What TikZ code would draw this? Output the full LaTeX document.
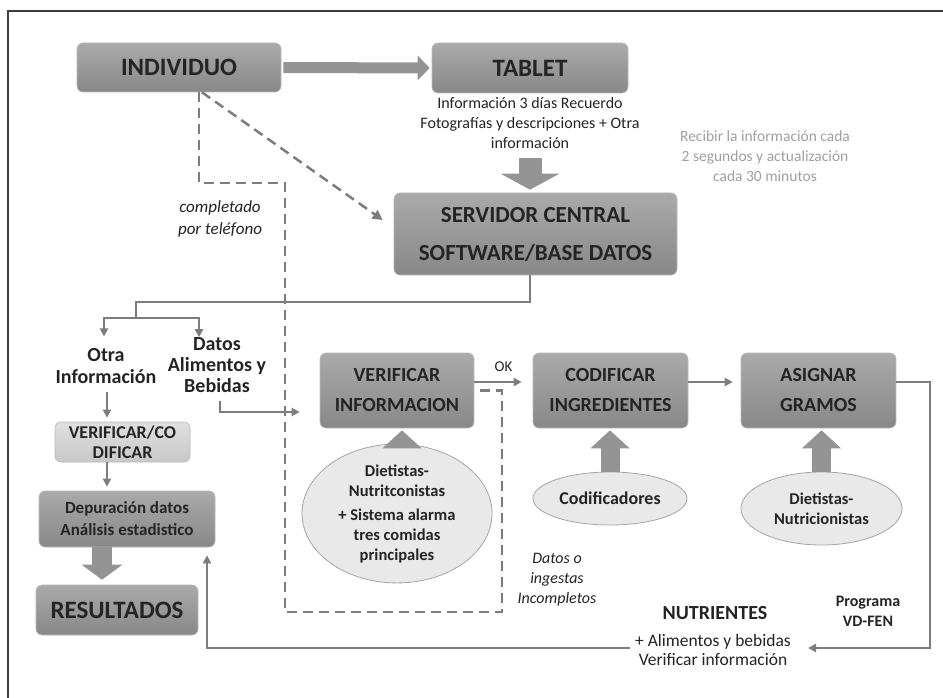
\documentclass[tikz,border=0pt]{standalone}
\usepackage{fontspec}
\setmainfont{Carlito}
\usetikzlibrary{arrows.meta,shapes.geometric}

\definecolor{ink}{RGB}{36,36,36}
\definecolor{boxtop}{RGB}{170,170,170}
\definecolor{boxbot}{RGB}{136,136,136}
\definecolor{boxedge}{RGB}{185,185,185}
\definecolor{lighttop}{RGB}{224,224,224}
\definecolor{lightbot}{RGB}{200,200,200}
\definecolor{ovalfill}{RGB}{233,233,233}
\definecolor{ovaledge}{RGB}{165,165,165}
\definecolor{flow}{RGB}{125,125,125}
\definecolor{bigflow}{RGB}{148,148,148}
\definecolor{note}{RGB}{160,160,160}
\definecolor{frameline}{RGB}{60,60,60}

\newcommand\fsz[2]{\fontsize{#1}{#2}\selectfont}

\tikzset{
  procbox/.style={rectangle, rounded corners=6pt, top color=boxtop, bottom color=boxbot,
    draw=boxedge, line width=0.6pt, text=ink, align=center, inner sep=0pt},
  lightbox/.style={procbox, top color=lighttop, bottom color=lightbot},
  oval/.style={ellipse, fill=ovalfill, draw=ovaledge, line width=0.8pt, text=ink,
    align=center, inner sep=0pt},
  plaintext/.style={text=ink, align=center, inner sep=0pt},
  flowline/.style={draw=flow, line width=2.5pt},
  flowarrow/.style={flowline, -{Triangle[length=8pt,width=8pt]}},
  dashflow/.style={draw=flow, line width=2.5pt, dash pattern=on 10pt off 6pt},
  fatarrow/.style args={#1/#2/#3}{draw=bigflow, line width=#1,
    -{Triangle[width=#2,length=#3]}},
}

\begin{document}
\begin{tikzpicture}[x=1pt,y=-1pt]
\useasboundingbox (0,0) rectangle (943,698);
\fill[white] (0,0) rectangle (943,698);

% outer frame (only top and left edges fall inside the page)
\draw[frameline, line width=1.5pt] (8,698) -- (8,11) -- (943,11);

% ---- top row ----
\node[procbox, minimum width=204pt, minimum height=49pt, font=\bfseries\fsz{25}{30}]
  (indiv) at (179,67.5) {INDIVIDUO};
\node[procbox, minimum width=196pt, minimum height=50pt, font=\bfseries\fsz{25}{30}]
  (tablet) at (530,68) {TABLET};
\node[plaintext, font=\fsz{16}{20}] (tabinfo) at (530,123)
  {Información 3 días Recuerdo\\Fotografías y descripciones + Otra\\información};
\node[plaintext, text=note, font=\fsz{15.5}{20}] (recibir) at (765,156)
  {Recibir la información cada\\2 segundos y actualización\\cada 30 minutos};

\node[procbox, minimum width=283pt, minimum height=82pt, font=\bfseries\fsz{23}{38}]
  (serv) at (535.5,234) {SERVIDOR CENTRAL\\SOFTWARE/BASE DATOS};

\node[plaintext, font=\itshape\fsz{17}{22}] (tel) at (220,218.5) {completado\\por teléfono};

% ---- left branch ----
\node[plaintext, font=\bfseries\fsz{20}{21.5}] (otra) at (106,366) {Otra\\Información};
\node[plaintext, font=\bfseries\fsz{20}{21}] (datos) at (217,365) {Datos\\Alimentos y\\Bebidas};
\node[lightbox, minimum width=135pt, minimum height=40pt, font=\bfseries\fsz{18}{20}]
  (verco) at (122.5,442) {VERIFICAR/CO\\DIFICAR};
\node[procbox, minimum width=176pt, minimum height=56pt, font=\bfseries\fsz{17}{22}]
  (depu) at (127,519) {Depuración datos\\Análisis estadistico};
\node[procbox, minimum width=162pt, minimum height=50pt, font=\bfseries\fsz{25}{30}]
  (res) at (117,610) {RESULTADOS};

% ---- processing row ----
\node[procbox, minimum width=154pt, minimum height=75pt, font=\bfseries\fsz{20}{30}]
  (verif) at (397,390.5) {VERIFICAR\\INFORMACION};
\node[procbox, minimum width=155pt, minimum height=75pt, font=\bfseries\fsz{20}{30}]
  (codif) at (610.5,390.5) {CODIFICAR\\INGREDIENTES};
\node[procbox, minimum width=155pt, minimum height=75pt, font=\bfseries\fsz{20}{30}]
  (asig) at (818.5,390.5) {ASIGNAR\\GRAMOS};

\node[oval, minimum width=190pt, minimum height=121pt, font=\bfseries\fsz{16.5}{20}]
  (diet1) at (397,513.5) {Dietistas-\\Nutritconistas\\[4pt]+ Sistema alarma\\tres comidas\\principales};
\node[oval, minimum width=154pt, minimum height=53pt, font=\bfseries\fsz{18}{22}]
  (codifs) at (610,498.5) {Codificadores};
\node[oval, minimum width=161pt, minimum height=73pt, font=\bfseries\fsz{16.5}{20}]
  (diet2) at (821.5,508.5) {Dietistas-\\Nutricionistas};

\node[plaintext, font=\itshape\fsz{16}{20}] (incomp) at (557,579.5) {Datos o\\ingestas\\Incompletos};

% ---- output ----
\node[plaintext, font=\bfseries\fsz{20}{24}] (nutri) at (715,613) {NUTRIENTES};
\node[plaintext, font=\fsz{17.5}{19.5}] (alim) at (713,650) {+ Alimentos y bebidas\\Verificar información};
\node[plaintext, font=\bfseries\fsz{16}{20}] (vdfen) at (868,611.5) {Programa\\VD-FEN};

% junction points
\coordinate (split) at (136,302);
\coordinate (fork) at (136,318);
\coordinate (dashcorner) at (285,183);
\coordinate (dashbottom) at (502,612);
\coordinate (rightturn) at (930,648);
\coordinate (nutin) at (808,648);
\coordinate (nutout) at (630,648);

% ---- wide arrows ----
\draw[fatarrow=11pt/24pt/12pt, shorten <=2pt, shorten >=2pt] (indiv.east) -- (tablet.west);
\draw[fatarrow=23pt/58pt/16pt, shorten <=9pt, shorten >=3pt]
  (tabinfo.south) -- (tabinfo.south |- serv.north);
\draw[fatarrow=19pt/38pt/18pt, shorten >=2pt] ([xshift=5pt]diet1.north) -- ([xshift=5pt]verif.south);
\draw[fatarrow=19pt/38pt/18pt, shorten >=2pt] (codifs.north) -- (codifs.north |- codif.south);
\draw[fatarrow=19pt/38pt/18pt, shorten >=2pt] (diet2.north) -- (diet2.north |- asig.south);
\draw[fatarrow=20pt/40pt/15pt, shorten >=5pt] ([xshift=-25pt]depu.south) -- ([xshift=-15pt]res.north);

% ---- dashed telephone path ----
\draw[dashflow] ([xshift=20pt]indiv.south) |- (dashcorner) |- (dashbottom) |- (verif.east);
\draw[dashflow, -{Triangle[length=10pt,width=10pt]}]
  ([xshift=23pt]indiv.south) -- ([xshift=-11pt,yshift=14pt]serv.west);

% ---- thin connectors ----
\draw[flowline] ([xshift=-5.5pt]serv.south) |- (split) -- (fork);
\draw[flowarrow, shorten >=12pt] (fork) -| ([xshift=-2pt]otra.north);
\draw[flowarrow] (fork) -| ([xshift=-18pt]datos.north);
\draw[flowarrow, shorten <=8pt, shorten >=4pt] ([xshift=1pt]otra.south) -- ([xshift=1pt]otra.south |- verco.north);
\draw[flowarrow, shorten >=4pt] ([xshift=1pt]otra.south |- verco.south) -- ([xshift=1pt]otra.south |- depu.north);
\draw[flowarrow, shorten <=8pt, shorten >=20pt] ([xshift=3pt]datos.south) |- ([yshift=-21.5pt]verif.west);
\draw[flowarrow, shorten >=11pt] ([yshift=8.5pt]verif.east) -- ([yshift=8.5pt]codif.west)
  node[midway, yshift=15pt, inner sep=0pt, text=ink, font=\fsz{15}{18}] (ok) {OK};
\draw[flowarrow, shorten >=8pt] ([yshift=8.5pt]codif.east) -- ([yshift=8.5pt]asig.west);
\draw[flowarrow] ([yshift=8.5pt]asig.east) -| (rightturn) -- (nutin);
\draw[flowarrow] (nutout) -| ([xshift=80pt,yshift=-8pt]depu.south);

\end{tikzpicture}
\end{document}
